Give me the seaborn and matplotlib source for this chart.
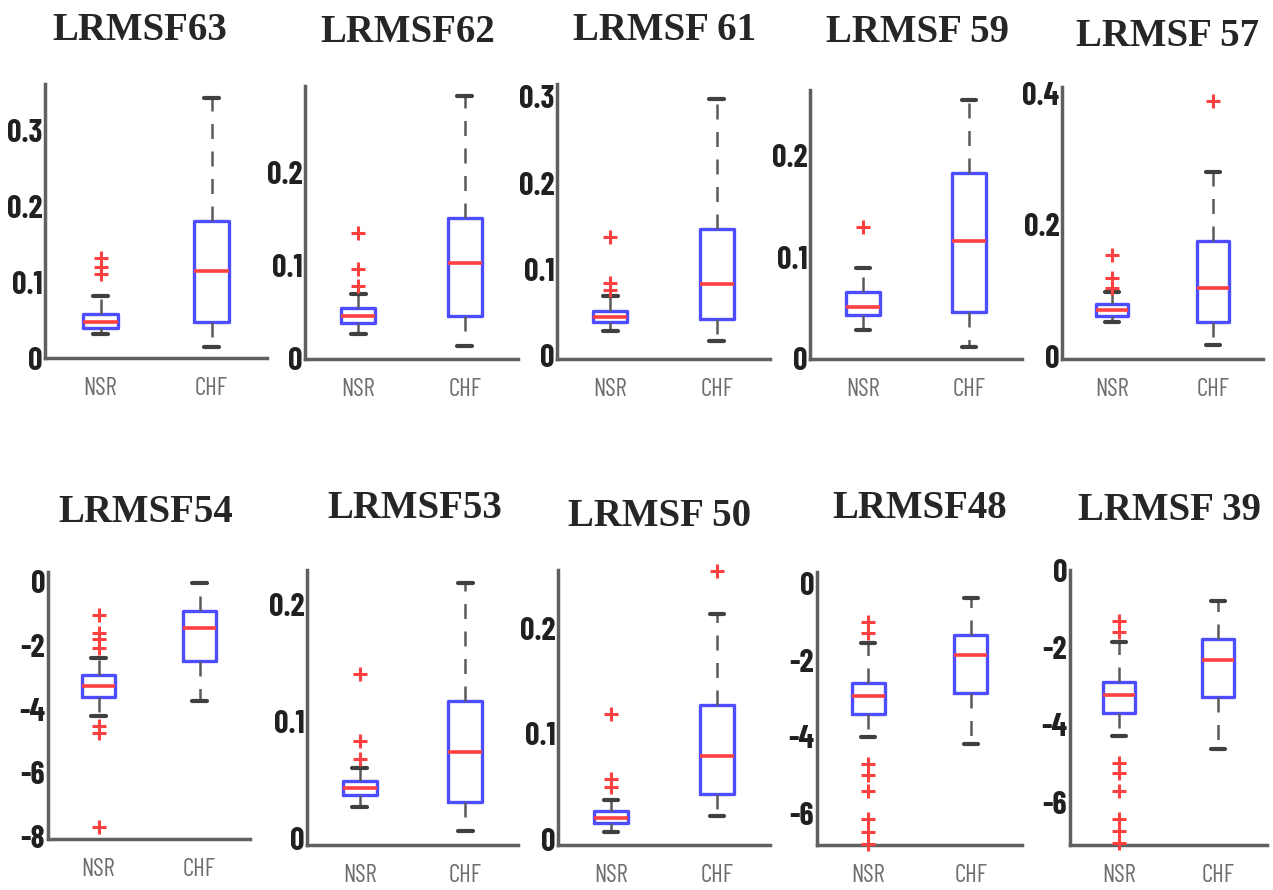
import numpy as np
import pandas as pd
import matplotlib
matplotlib.use("Agg")
import matplotlib.pyplot as plt
import seaborn as sns

# ---------------- data ----------------
titles = ["LRMSF63", "LRMSF62", "LRMSF 61", "LRMSF 59", "LRMSF 57",
          "LRMSF54", "LRMSF53", "LRMSF 50", "LRMSF48", "LRMSF 39"]
groups = ["NSR", "CHF"]

nsr_low  = [0.032, 0.027, 0.028, 0.029, 0.052, -4.22, 0.027, 0.007, -4.00, -4.28]
nsr_q1   = [0.039, 0.039, 0.039, 0.043, 0.061, -3.61, 0.037, 0.016, -3.42, -3.70]
nsr_med  = [0.048, 0.046, 0.045, 0.051, 0.070, -3.28, 0.043, 0.021, -2.94, -3.23]
nsr_q3   = [0.058, 0.055, 0.052, 0.066, 0.079, -2.94, 0.049, 0.027, -2.59, -2.88]
nsr_high = [0.082, 0.070, 0.069, 0.090, 0.098, -2.40, 0.060, 0.038, -1.55, -1.87]

chf_low  = [0.015, 0.014, 0.017, 0.012, 0.017, -3.75, 0.006, 0.022, -4.19, -4.61]
chf_q1   = [0.048, 0.046, 0.042, 0.046, 0.052, -2.49, 0.031, 0.043, -2.87, -3.29]
chf_med  = [0.115, 0.103, 0.083, 0.116, 0.104, -1.45, 0.074, 0.079, -1.87, -2.32]
chf_q3   = [0.181, 0.151, 0.147, 0.183, 0.176, -0.91, 0.118, 0.127, -1.35, -1.78]
chf_high = [0.344, 0.281, 0.298, 0.255, 0.281, -0.05, 0.219, 0.213, -0.37, -0.79]

nsr_outliers = [
    [0.111, 0.120, 0.132],
    [0.078, 0.096, 0.135],
    [0.076, 0.084, 0.138],
    [0.130],
    [0.104, 0.119, 0.154],
    [-1.06, -1.60, -1.79, -2.07, -4.53, -4.75, -7.70],
    [0.068, 0.083, 0.141],
    [0.050, 0.057, 0.119],
    [-1.00, -1.30, -4.71, -5.00, -5.43, -6.16, -6.48, -6.80],
    [-1.31, -1.59, -4.99, -5.25, -5.71, -6.42, -6.74, -7.05],
]
chf_outliers = [[], [], [], [], [0.388], [], [], [0.254], [], []]

y_limits = [(0, 0.362), (0, 0.292), (-0.004, 0.315), (0, 0.265), (-0.004, 0.41),
            (-8.08, 0.3), (-0.006, 0.23), (-0.005, 0.255), (-6.83, 0.3), (-7.1, 0.0)]
y_ticks = [[0, 0.1, 0.2, 0.3], [0, 0.1, 0.2], [0, 0.1, 0.2, 0.3], [0, 0.1, 0.2],
           [0, 0.2, 0.4], [0, -2, -4, -6, -8], [0, 0.1, 0.2], [0, 0.1, 0.2],
           [0, -2, -4, -6], [0, -2, -4, -6]]

# ---------------- layout (pixels in the 1273x890 canvas) ----------------
W, H = 1273, 890
ax_px = [  # left, right, top, bottom
    (45, 267, 84, 358), (305, 518, 86, 359), (557, 770, 84, 359), (810, 1022, 90, 359), (1062, 1263, 87, 359),
    (48, 250, 572, 839), (307, 518, 570, 845), (558, 770, 570, 845), (817, 1022, 572, 845), (1070, 1267, 570, 845),
]
title_px = [(140, 30), (408, 32), (665, 30), (918, 32), (1168, 37),
            (146, 512), (415, 508), (660, 517), (920, 508), (1170, 510)]

sns.set_style("white")
cond = ["Barlow Condensed", "Archivo Narrow", "DejaVu Sans"]
plt.rcParams["font.family"] = cond

fig = plt.figure(figsize=(W / 100, H / 100), dpi=100)
fig.patch.set_facecolor("white")

blue = "#4d4dff"
red = "#ff4040"
gray = "#5a5a5a"

for i in range(10):
    l, r, t, b = ax_px[i]
    ax = fig.add_axes([l / W, 1 - b / H, (r - l) / W, (b - t) / H])

    box_df = pd.DataFrame({
        "group": ["NSR"] * 5 + ["CHF"] * 5,
        "value": [nsr_low[i], nsr_q1[i], nsr_med[i], nsr_q3[i], nsr_high[i],
                  chf_low[i], chf_q1[i], chf_med[i], chf_q3[i], chf_high[i]],
    })
    sns.boxplot(data=box_df, x="group", y="value", order=groups, whis=np.inf,
                width=0.32, fill=False, showfliers=False, ax=ax,
                boxprops=dict(color=blue, linewidth=2.4),
                medianprops=dict(color=red, linewidth=2.6),
                whiskerprops=dict(color=gray, linewidth=1.8, linestyle=(0, (6, 5))),
                capprops=dict(color="#404040", linewidth=3),
                capwidths=0.14)

    out_df = pd.DataFrame({
        "group": ["NSR"] * len(nsr_outliers[i]) + ["CHF"] * len(chf_outliers[i]),
        "value": nsr_outliers[i] + chf_outliers[i],
    })
    sns.stripplot(data=out_df, x="group", y="value", order=groups, jitter=False,
                  marker="+", color=red, size=10, linewidth=2.2, ax=ax)
    for coll in ax.collections:
        coll.set_clip_on(False)

    ax.set_xlim(-0.5, 1.5)
    ax.set_ylim(*y_limits[i])
    ax.set_yticks(y_ticks[i])
    ax.set_yticklabels([f"{v:g}" for v in y_ticks[i]])
    ax.set_xlabel("")
    ax.set_ylabel("")
    for s in ["top", "right"]:
        ax.spines[s].set_visible(False)
    for s in ["left", "bottom"]:
        ax.spines[s].set_color("#606060")
        ax.spines[s].set_linewidth(2.5)
    ax.tick_params(axis="y", direction="in", length=4, width=1, color="#909090",
                   pad=2, labelsize=23)
    ax.tick_params(axis="x", length=0, pad=14, labelsize=18, labelcolor="#6e6e6e")
    for lab in ax.get_yticklabels():
        lab.set_fontweight("bold")
        lab.set_color("#202020")
        lab.set_family(cond)
    for lab in ax.get_xticklabels():
        lab.set_family(cond)

    tx, ty = title_px[i]
    fig.text(tx / W, 1 - ty / H, titles[i], ha="center", va="center",
             fontsize=28, fontweight="bold", family=["Liberation Serif", "DejaVu Serif"])

fig.savefig("out.png", dpi=100, facecolor="white")
